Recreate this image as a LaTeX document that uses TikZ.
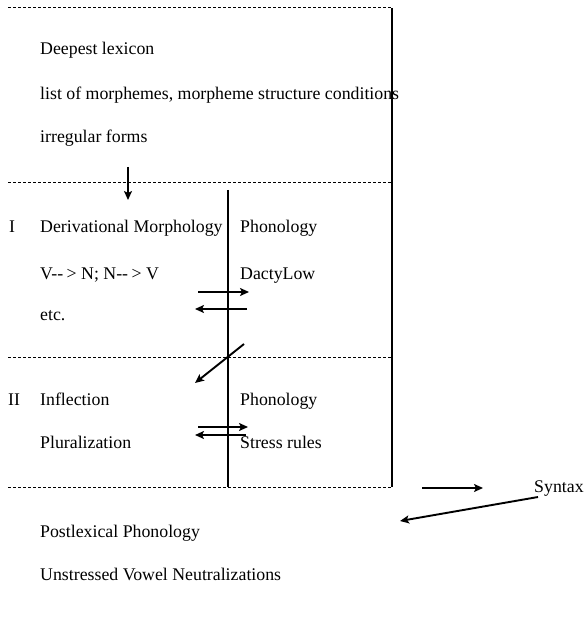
\documentclass[tikz,border=0pt]{standalone}
\usepackage{fontspec}
\setmainfont{Liberation Serif}
\usetikzlibrary{arrows.meta}
\begin{document}
\begin{tikzpicture}[x=1pt,y=-1pt,
  txt/.style={anchor=base west,inner sep=0pt,font=\fontsize{17.8}{20}\selectfont},
  dashline/.style={line width=1pt,dash pattern=on 3.2pt off 1.8pt},
  solidline/.style={line width=1.4pt},
  arr/.style={line width=1.9pt,-{Stealth[length=9pt,width=8pt,inset=2pt]}}]
\useasboundingbox (0,0) rectangle (583,617);
% frame lines
\coordinate (tl) at (8,8);
\coordinate (tr) at (392,8);
\coordinate (l1) at (8,183);
\coordinate (r1) at (392,183);
\coordinate (l2) at (8,357);
\coordinate (r2) at (392,357);
\coordinate (l3) at (8,487);
\coordinate (r3) at (392,487);
\coordinate (mtop) at (228,190);
\coordinate (mbot) at (228,487);
\draw[dashline] (tl) -- (tr);
\draw[dashline] (l1) -- (r1);
\draw[dashline] (l2) -- (r2);
\draw[dashline] (l3) -- (r3);
\draw[solidline] (tr) -- (r3);
\draw[solidline] (mtop) -- (mbot);
% texts
\node[txt] (deep) at (40,55) {Deepest lexicon};
\node[txt] (list) at (40,100) {list of morphemes, morpheme structure conditions};
\node[txt] (irr) at (40,143) {irregular forms};
\node[txt] (one) at (9,233) {I};
\node[txt] (deriv) at (40,233) {Derivational Morphology};
\node[txt] (phon1) at (240,233) {Phonology};
\node[txt] (vn) at (40,279) {V-{}- {\kern-1pt}> N; N-{}- {\kern-1pt}> V};
\node[txt] (dacty) at (240,279) {DactyLow};
\node[txt] (etc) at (40,320) {etc.};
\node[txt] (two) at (8,405) {II};
\node[txt] (infl) at (40,405) {Inflection};
\node[txt] (phon2) at (240,405) {Phonology};
\node[txt] (plur) at (40,448) {Pluralization};
\node[txt] (stress) at (240,448) {Stress rules};
\node[txt] (syntax) at (534,492) {Syntax};
\node[txt] (post) at (40,537) {Postlexical Phonology};
\node[txt] (unstr) at (40,580) {Unstressed Vowel Neutralizations};
% arrows
\coordinate (d1) at (128,167);
\coordinate (d2) at (128,200);
\draw[arr] (d1) -- (d2);
\coordinate (a1s) at (198,292);
\coordinate (a1e) at (249,292);
\draw[arr] (a1s) -- (a1e);
\coordinate (a2s) at (247,309);
\coordinate (a2e) at (195,309);
\draw[arr] (a2s) -- (a2e);
\coordinate (g1) at (244,344);
\coordinate (g2) at (195,383);
\draw[arr] (g1) -- (g2);
\coordinate (b1s) at (198,427);
\coordinate (b1e) at (248,427);
\draw[arr] (b1s) -- (b1e);
\coordinate (b2s) at (246,435);
\coordinate (b2e) at (195,435);
\draw[arr] (b2s) -- (b2e);
\coordinate (sx1) at (422,488);
\coordinate (sx2) at (483,488);
\draw[arr] (sx1) -- (sx2);
\coordinate (sy1) at (538,497);
\coordinate (sy2) at (400,521);
\draw[arr] (sy1) -- (sy2);
\end{tikzpicture}
\end{document}
